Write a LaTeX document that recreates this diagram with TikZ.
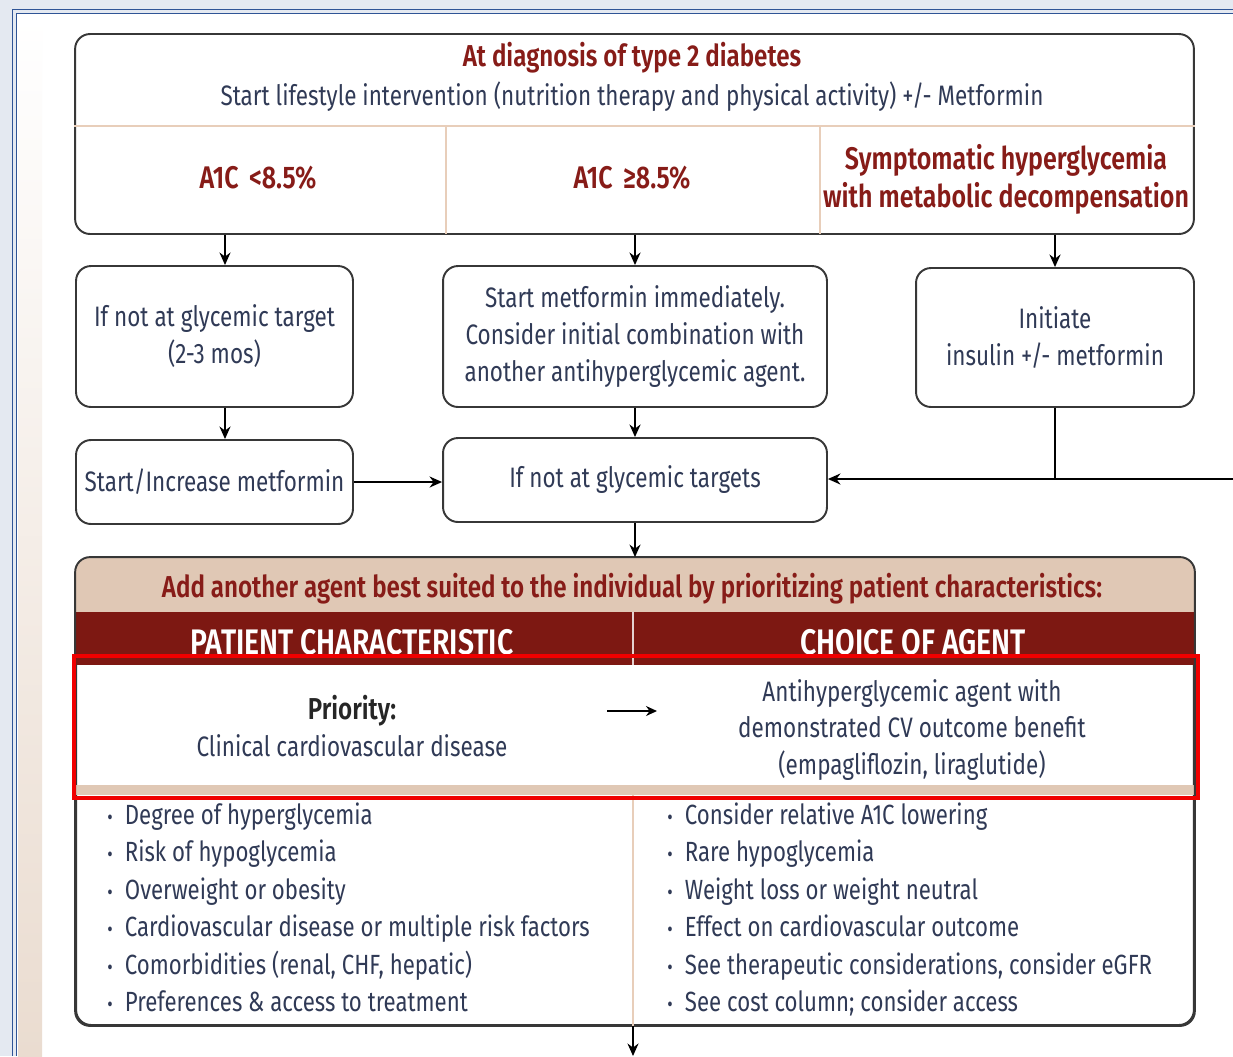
\documentclass[tikz,border=0pt]{standalone}
\usepackage{fontspec}
\setmainfont{Fira Sans}[FakeStretch=0.8, BoldFont={Fira Sans SemiBold}]
\usetikzlibrary{arrows.meta,positioning,calc}
\definecolor{pageout}{RGB}{228,233,241}
\definecolor{frameblue}{RGB}{47,84,150}
\definecolor{stripbeige}{RGB}{234,220,208}
\definecolor{boxgray}{RGB}{55,55,55}
\definecolor{titlered}{RGB}{135,28,24}
\definecolor{txtslate}{RGB}{48,58,86}
\definecolor{hdrbeige}{RGB}{224,200,181}
\definecolor{hdrred}{RGB}{125,24,18}
\definecolor{divtan}{RGB}{232,206,186}
\definecolor{annred}{RGB}{240,0,0}
\newcommand{\bodyfont}{\fontsize{16}{21}\selectfont}
\newcommand{\listfont}{\fontsize{15.8}{21}\selectfont}
\newcommand{\headfont}{\fontsize{17.2}{21.5}\selectfont\bfseries}
\newcommand{\cellfont}{\fontsize{17.8}{21.5}\selectfont\bfseries}
\newcommand{\colfont}{\fontsize{20.2}{22}\selectfont\bfseries}
\newcommand{\bul}{\makebox[10pt][l]{\scalebox{0.75}{\textbullet}}}
\tikzset{
  boxln/.style={draw=boxgray, line width=1.1pt, rounded corners=8.5pt, fill=white},
  flowbox/.style={boxln, align=center, text=txtslate, font=\bodyfont, inner sep=2pt},
  bodytxt/.style={text=txtslate, font=\bodyfont, align=center, inner sep=0pt},
  redtxt/.style={text=titlered, font=\headfont, align=center, inner sep=0pt},
  celltxt/.style={redtxt, font=\cellfont},
  colhdr/.style={text=white, font=\colfont, inner sep=0pt},
  listtxt/.style={text=txtslate, font=\listfont, anchor=west, inner sep=0pt},
  arrln/.style={-{Stealth[length=2.5mm,width=2.2mm]}, line width=1.1pt},
  plainln/.style={line width=1.1pt},
  divln/.style={divtan, line width=0.9pt},
}

\begin{document}
\begin{tikzpicture}[x=0.02cm, y=-0.02cm]
  \useasboundingbox (0,0) rectangle (1233,1056);
  % page frame of the screenshot
  \fill[pageout] (0,0) rectangle (1233,1056);
  \fill[white] (17,14) rectangle (1233,1056);
  \shade[top color=white, bottom color=stripbeige] (18,16) rectangle (42,1056);
  \draw[frameblue, line width=0.9pt] (12.5,1056) -- (12.5,9.5) -- (1233,9.5);
  \draw[frameblue, line width=0.9pt] (16.5,1056) -- (16.5,13.5) -- (1233,13.5);

  % diagnosis box
  \node[boxln, minimum width=22.38cm, minimum height=4cm] (diag) at (634.5,134) {};
  \draw[divln] (diag.west |- 0,126) -- (diag.east |- 0,126);
  \draw[divln] (446,126) -- (446,234);
  \draw[divln] (820,126) -- (820,234);
  \node[redtxt] (diagT) at (632,58) {At diagnosis of type 2 diabetes};
  \node[bodytxt] (diagS) at (632,97)
    {Start lifestyle intervention (nutrition therapy and physical activity) +/- Metformin};
  \node[celltxt] (lowA) at (258,178) {A1C\,\,<8.5\%};
  \node[celltxt] (highA) at (632,178) {A1C\,\,≥8.5\%};
  \node[celltxt] (sympt) at (1006,179) {Symptomatic hyperglycemia\\with metabolic decompensation};

  % second row
  \node[flowbox, minimum width=5.54cm, minimum height=2.82cm] (tgtL) at (214.5,336.5)
    {If not at glycemic target\\(2-3 mos)};
  \node[flowbox, minimum width=7.68cm, minimum height=2.82cm] (tgtM) at (635,336.5)
    {Start metformin immediately.\\Consider initial combination with\\another antihyperglycemic agent.};
  \node[flowbox, minimum width=5.56cm, minimum height=2.78cm] (insR) at (1055,337.5)
    {Initiate\\insulin +/- metformin};

  % third row
  \node[flowbox, minimum width=5.54cm, minimum height=1.68cm] (metL) at (214.5,482)
    {Start/Increase metformin};
  \node[flowbox, minimum width=7.68cm, minimum height=1.68cm] (notM) at (635,480)
    {If not at glycemic targets};

  % connectors
  \coordinate (xL) at (225,0);
  \coordinate (offR) at (1233,479);
  \draw[arrln] (diag.south -| xL) -- (tgtL.north -| xL);
  \draw[arrln] (diag.south -| tgtM.north) -- (tgtM.north);
  \draw[arrln] (diag.south -| insR.north) -- (insR.north);
  \draw[arrln] (tgtL.south -| xL) -- (metL.north -| xL);
  \draw[arrln] (tgtM.south) -- (notM.north);
  \draw[arrln] (metL.east) -- (metL.east -| notM.west);
  \draw[arrln] (offR) -- (notM.east |- offR);
  \draw[plainln] (insR.south) -- (insR.south |- offR);

  % agent table
  \node[boxln, minimum width=22.36cm, minimum height=9.34cm] (agent) at (635,791.5) {};
  \begin{scope}
    \clip[rounded corners=8.5pt] (agent.south west) rectangle (agent.north east);
    \fill[hdrbeige] (agent.north west) rectangle (1194,612);
    \fill[hdrred] (70,612) rectangle (1194,665);
    \fill[hdrbeige] (70,785) rectangle (1194,795);
  \end{scope}
  \draw[boxgray, line width=1.1pt, rounded corners=8.5pt] (agent.south west) rectangle (agent.north east);
  \draw[white!80!hdrred, line width=0.8pt] (633,612) -- (633,665);
  \draw[divln] (633,795) -- (agent.south -| 633,0);
  \draw[arrln] (notM.south) -- (agent.north -| notM.south);

  \node[redtxt] (addT) at (632,589)
    {Add another agent best suited to the individual by prioritizing patient characteristics:};
  \node[colhdr] (pcH) at (352,642) {PATIENT CHARACTERISTIC};
  \node[colhdr] (coaH) at (913,642) {CHOICE OF AGENT};

  % priority row
  \node[bodytxt, font=\headfont, text=black!85] (prioT) at (352,711) {Priority:};
  \node[bodytxt] (prioD) at (352,746) {Clinical cardiovascular disease};
  \node[bodytxt] (cvA) at (912,730)
    {Antihyperglycemic agent with\\demonstrated CV outcome benefit\\(empagliflozin, liraglutide)};
  \coordinate (pa) at (607,711);
  \coordinate (pb) at (657,711);
  \draw[-{Stealth[length=2.2mm,width=2mm]}, line width=0.9pt] (pa) -- (pb);

  % characteristic lists
  \foreach \txt [count=\i] in {Degree of hyperglycemia, Risk of hypoglycemia,
      Overweight or obesity, Cardiovascular disease or multiple risk factors,
      {Comorbidities (renal, CHF, hepatic)}, Preferences \& access to treatment}{
    \node[listtxt] (pc\i) at (107,{817+37.4*(\i-1)}) {\strut\bul\txt};
  }
  \foreach \txt [count=\i] in {Consider relative A1C lowering, Rare hypoglycemia,
      Weight loss or weight neutral, Effect on cardiovascular outcome,
      {See therapeutic considerations, consider eGFR}, See cost column; consider access}{
    \node[listtxt] (ca\i) at (667,{817+37.4*(\i-1)}) {\strut\bul\txt};
  }

  % highlight frame
  \draw[annred, line width=2.3pt] (74,656) rectangle (1198,798);

  % onward arrow
  \coordinate (offB) at (633,1056);
  \draw[arrln] (agent.south -| offB) -- (offB);
\end{tikzpicture}
\end{document}
